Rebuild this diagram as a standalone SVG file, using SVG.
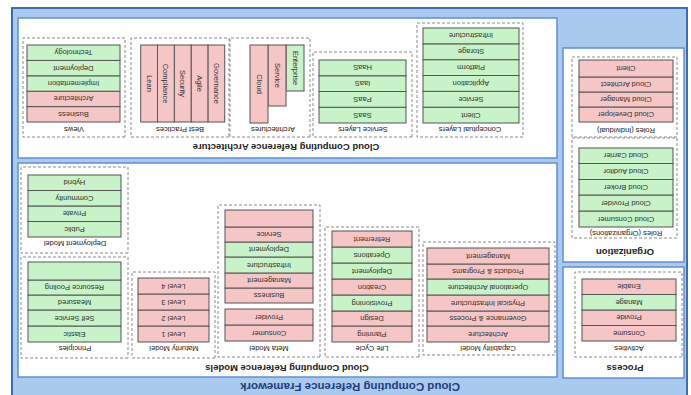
<svg xmlns="http://www.w3.org/2000/svg" width="691" height="395" viewBox="0 0 691 395">
<style>
.frame{fill:#a9c9ee;stroke:#3c6eb4;stroke-width:2}
.panel{fill:#ffffff;stroke:#5f8fd2;stroke-width:1.5}
.dash{fill:none;stroke:#8a8a8a;stroke-width:1;stroke-dasharray:3 2}
.p{fill:#f6c6c6;stroke:#555;stroke-width:1}
.g{fill:#c8f2c8;stroke:#555;stroke-width:1}
text{font-family:"Liberation Sans",Arial,sans-serif;text-anchor:middle;dominant-baseline:central}
.t{font-size:7.5px;fill:#333}
.l{font-size:7.5px;fill:#222}
.pt{font-size:9.5px;font-weight:bold;fill:#222}
.title{font-size:11.5px;font-weight:bold;fill:#1f3d7a}
</style>
<rect x="0" y="0" width="691" height="395" fill="#ffffff"/>
<g transform="rotate(180 345.5 197.5)">
<rect class="frame" x="4" y="-5" width="675" height="392"/>
<text class="title" x="341" y="8">Cloud Computing Reference Framework</text>

<g id="architecture">
<rect class="panel" x="134" y="237" width="539" height="140"/>
<text class="pt" x="405" y="248">Cloud Computing Reference Architecture</text>
</g>
<g id="views">
<rect class="dash" x="566" y="258" width="102" height="99"/>
<text class="l" x="617" y="266">Views</text>
<rect class="p" x="571" y="273" width="93" height="15.4"/><text class="t" x="617.5" y="280.7">Business</text>
<rect class="p" x="571" y="288.4" width="93" height="15.4"/><text class="t" x="617.5" y="296.1">Architecture</text>
<rect class="g" x="571" y="303.8" width="93" height="15.4"/><text class="t" x="617.5" y="311.5">Implementation</text>
<rect class="g" x="571" y="319.2" width="93" height="15.4"/><text class="t" x="617.5" y="326.9">Deployment</text>
<rect class="g" x="571" y="334.6" width="93" height="15.4"/><text class="t" x="617.5" y="342.3">Technology</text>
</g>
<g id="best-practices">
<rect class="dash" x="462" y="258" width="98" height="99"/>
<text class="l" x="511" y="266">Best Practices</text>
<rect class="p" x="466.3" y="273" width="16.8" height="77"/><text class="t" transform="translate(474.7 311.5) rotate(-90)">Governance</text>
<rect class="p" x="483.1" y="273" width="16.8" height="77"/><text class="t" transform="translate(491.5 311.5) rotate(-90)">Agile</text>
<rect class="p" x="499.9" y="273" width="16.8" height="77"/><text class="t" transform="translate(508.3 311.5) rotate(-90)">Security</text>
<rect class="p" x="516.7" y="273" width="16.8" height="77"/><text class="t" transform="translate(525.1 311.5) rotate(-90)">Compliance</text>
<rect class="p" x="533.5" y="273" width="16.8" height="77"/><text class="t" transform="translate(541.9 311.5) rotate(-90)">Lean</text>
</g>
<g id="architectures">
<rect class="dash" x="381" y="258" width="80" height="99"/>
<text class="l" x="418" y="266">Architectures</text>
<rect class="g" x="387" y="304" width="18" height="46"/><text class="t" transform="translate(396 327) rotate(-90)">Enterprise</text>
<rect class="p" x="405" y="289" width="18" height="61"/><text class="t" transform="translate(414 319.5) rotate(-90)">Service</text>
<rect class="p" x="423" y="272" width="18" height="78"/><text class="t" transform="translate(432 311) rotate(-90)">Cloud</text>
</g>
<g id="service-layers">
<rect class="dash" x="279" y="258" width="99" height="85"/>
<text class="l" x="328" y="266">Service Layers</text>
<rect class="g" x="285" y="272" width="87" height="15.75"/><text class="t" x="328.5" y="279.9">SaaS</text>
<rect class="g" x="285" y="287.75" width="87" height="15.75"/><text class="t" x="328.5" y="295.6">PaaS</text>
<rect class="g" x="285" y="303.5" width="87" height="15.75"/><text class="t" x="328.5" y="311.4">IaaS</text>
<rect class="g" x="285" y="319.25" width="87" height="15.75"/><text class="t" x="328.5" y="327.1">HaaS</text>
</g>
<g id="conceptual-layers">
<rect class="dash" x="168" y="258" width="106" height="114"/>
<text class="l" x="221" y="266">Conceptual Layers</text>
<rect class="g" x="172" y="272" width="96" height="15.83"/><text class="t" x="220" y="279.9">Client</text>
<rect class="g" x="172" y="287.83" width="96" height="15.83"/><text class="t" x="220" y="295.7">Service</text>
<rect class="g" x="172" y="303.67" width="96" height="15.83"/><text class="t" x="220" y="311.6">Application</text>
<rect class="g" x="172" y="319.5" width="96" height="15.83"/><text class="t" x="220" y="327.4">Platform</text>
<rect class="g" x="172" y="335.33" width="96" height="15.83"/><text class="t" x="220" y="343.2">Storage</text>
<rect class="g" x="172" y="351.17" width="96" height="15.83"/><text class="t" x="220" y="359.1">Infrastructure</text>
</g>

<g id="models">
<rect class="panel" x="134" y="18" width="539" height="214"/>
<text class="pt" x="404" y="27">Cloud Computing Reference Models</text>
</g>
<g id="deployment-model">
<rect class="dash" x="563" y="142" width="107" height="86"/>
<text class="l" x="616" y="152">Deployment Model</text>
<rect class="g" x="570" y="158" width="93" height="15.5"/><text class="t" x="616.5" y="165.75">Public</text>
<rect class="g" x="570" y="173.5" width="93" height="15.5"/><text class="t" x="616.5" y="181.25">Private</text>
<rect class="g" x="570" y="189" width="93" height="15.5"/><text class="t" x="616.5" y="196.75">Community</text>
<rect class="g" x="570" y="204.5" width="93" height="15.5"/><text class="t" x="616.5" y="212.25">Hybrid</text>
</g>
<g id="principles">
<rect class="dash" x="563" y="37" width="107" height="101"/>
<text class="l" x="616" y="47">Principles</text>
<rect class="g" x="570" y="53" width="93" height="16"/><text class="t" x="616.5" y="61">Elastic</text>
<rect class="g" x="570" y="69" width="93" height="16"/><text class="t" x="616.5" y="77">Self Service</text>
<rect class="g" x="570" y="85" width="93" height="15"/><text class="t" x="616.5" y="92.5">Measured</text>
<rect class="g" x="570" y="100" width="93" height="15"/><text class="t" x="616.5" y="107.5">Resource Pooling</text>
<rect class="g" x="570" y="115" width="93" height="18"/>
</g>
<g id="maturity-model">
<rect class="dash" x="476" y="37" width="83" height="86"/>
<text class="l" x="517" y="47">Maturity Model</text>
<rect class="p" x="482" y="53" width="71" height="16"/><text class="t" x="517.5" y="61">Level 1</text>
<rect class="p" x="482" y="69" width="71" height="16"/><text class="t" x="517.5" y="77">Level 2</text>
<rect class="p" x="482" y="85" width="71" height="16"/><text class="t" x="517.5" y="93">Level 3</text>
<rect class="p" x="482" y="101" width="71" height="16"/><text class="t" x="517.5" y="109">Level 4</text>
</g>
<g id="meta-model">
<rect class="dash" x="371" y="38" width="102" height="152"/>
<text class="l" x="422" y="47">Meta Model</text>
<rect class="p" x="378" y="54" width="88" height="16"/><text class="t" x="422" y="62">Consumer</text>
<rect class="p" x="378" y="70" width="88" height="16"/><text class="t" x="422" y="78">Provider</text>
<rect class="p" x="378" y="92" width="88" height="15"/><text class="t" x="422" y="99.5">Business</text>
<rect class="p" x="378" y="107" width="88" height="15"/><text class="t" x="422" y="114.5">Management</text>
<rect class="g" x="378" y="122" width="88" height="16"/><text class="t" x="422" y="130">Infrastructure</text>
<rect class="g" x="378" y="138" width="88" height="15"/><text class="t" x="422" y="145.5">Deployment</text>
<rect class="p" x="378" y="153" width="88" height="15"/><text class="t" x="422" y="160.5">Service</text>
<rect class="p" x="378" y="168" width="88" height="17"/>
</g>
<g id="life-cycle">
<rect class="dash" x="272" y="38" width="94" height="130"/>
<text class="l" x="319" y="47">Life Cycle</text>
<rect class="p" x="279" y="53" width="80" height="16"/><text class="t" x="319" y="61">Planning</text>
<rect class="p" x="279" y="69" width="80" height="15"/><text class="t" x="319" y="76.5">Design</text>
<rect class="g" x="279" y="84" width="80" height="16"/><text class="t" x="319" y="92">Provisioning</text>
<rect class="p" x="279" y="100" width="80" height="16"/><text class="t" x="319" y="108">Creation</text>
<rect class="g" x="279" y="116" width="80" height="16"/><text class="t" x="319" y="124">Deployment</text>
<rect class="g" x="279" y="132" width="80" height="16"/><text class="t" x="319" y="140">Operations</text>
<rect class="p" x="279" y="148" width="80" height="16"/><text class="t" x="319" y="156">Retirement</text>
</g>
<g id="capability-model">
<rect class="dash" x="136" y="40" width="132" height="113"/>
<text class="l" x="203" y="47">Capability Model</text>
<rect class="p" x="142" y="53" width="122" height="16"/><text class="t" x="203" y="61">Architecture</text>
<rect class="p" x="142" y="69" width="122" height="15"/><text class="t" x="203" y="76.5">Governance &amp; Process</text>
<rect class="p" x="142" y="84" width="122" height="16"/><text class="t" x="203" y="92">Physical Infrastructure</text>
<rect class="g" x="142" y="100" width="122" height="16"/><text class="t" x="203" y="108">Operational Architecture</text>
<rect class="p" x="142" y="116" width="122" height="15"/><text class="t" x="203" y="123.5">Products &amp; Programs</text>
<rect class="p" x="142" y="131" width="122" height="16"/><text class="t" x="203" y="139">Management</text>
</g>

<g id="organization">
<rect class="panel" x="7" y="133" width="121" height="214"/>
<text class="pt" x="66" y="143">Organization</text>
</g>
<g id="roles-organizations">
<rect class="dash" x="14" y="157" width="105" height="100"/>
<text class="l" x="65" y="162">Roles (Organizations)</text>
<rect class="g" x="18" y="168" width="94" height="16"/><text class="t" x="65" y="176">Cloud Consumer</text>
<rect class="g" x="18" y="184" width="94" height="16"/><text class="t" x="65" y="192">Cloud Provider</text>
<rect class="g" x="18" y="200" width="94" height="15.5"/><text class="t" x="65" y="207.75">Cloud Broker</text>
<rect class="g" x="18" y="215.5" width="94" height="16"/><text class="t" x="65" y="223.5">Cloud Auditor</text>
<rect class="g" x="18" y="231.5" width="94" height="15.5"/><text class="t" x="65" y="239.25">Cloud Carrier</text>
</g>
<g id="roles-individual">
<rect class="dash" x="14" y="258" width="105" height="80"/>
<text class="l" x="65" y="265">Roles (Individual)</text>
<rect class="p" x="18" y="273" width="94" height="15"/><text class="t" x="65" y="280.5">Cloud Developer</text>
<rect class="p" x="18" y="288" width="94" height="15"/><text class="t" x="65" y="295.5">Cloud Manager</text>
<rect class="p" x="18" y="303" width="94" height="15"/><text class="t" x="65" y="310.5">Cloud Architect</text>
<rect class="p" x="18" y="318" width="94" height="17"/><text class="t" x="65" y="326.5">Client</text>
</g>

<g id="process">
<rect class="panel" x="7" y="17" width="121" height="111"/>
<text class="pt" x="66" y="27">Process</text>
<rect class="dash" x="9" y="38" width="107" height="85"/>
<text class="l" x="62" y="47">Activities</text>
<rect class="p" x="15" y="54" width="94" height="15.5"/><text class="t" x="62" y="61.75">Consume</text>
<rect class="p" x="15" y="69.5" width="94" height="15.5"/><text class="t" x="62" y="77.25">Provide</text>
<rect class="g" x="15" y="85" width="94" height="15.5"/><text class="t" x="62" y="92.75">Manage</text>
<rect class="p" x="15" y="100.5" width="94" height="15.5"/><text class="t" x="62" y="108.25">Enable</text>
</g>
<g id="connectors"></g>
</g>
</svg>
